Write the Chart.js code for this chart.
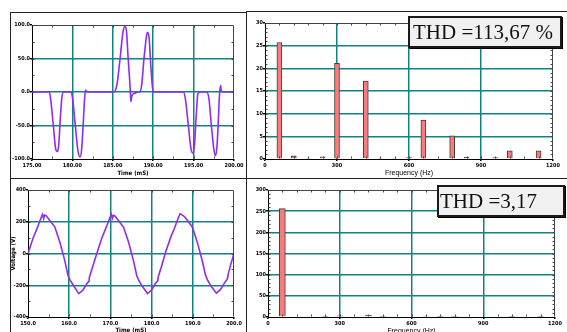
<!DOCTYPE html>
<html>
<head>
<meta charset="utf-8">
<script src="https://cdn.jsdelivr.net/npm/chart.js@4.4.1/dist/chart.umd.min.js"></script>
<style>
  html, body { margin: 0; padding: 0; background: #fff; }
  body { width: 567px; height: 332px; position: relative; overflow: hidden; }
  canvas { position: absolute; }
  .rule { position: absolute; background: #222; z-index: 2; }
  .thd {
    position: absolute; z-index: 3; box-sizing: border-box;
    background: #f1f1f1; border: 2px solid #1a1a1a; box-shadow: 1px 1px 0 #000;
    font-family: "Liberation Serif", "Times New Roman", serif; font-size: 21px;
    line-height: 28px; color: #111; white-space: nowrap;
  }
</style>
</head>
<body>
<div class="rule" style="left:10px;top:12px;width:236px;height:1px"></div>
<div class="rule" style="left:246px;top:11px;width:321px;height:1px"></div>
<div class="rule" style="left:10px;top:12px;width:1px;height:320px"></div>
<div class="rule" style="left:246px;top:11px;width:1px;height:321px"></div>
<div class="rule" style="left:10px;top:178px;width:557px;height:1px"></div>

<canvas id="wave1" width="234" height="166" style="left:11px;top:12px"></canvas>
<canvas id="fft1" width="320" height="166" style="left:247px;top:12px"></canvas>
<canvas id="wave2" width="241" height="160" style="left:4px;top:179px"></canvas>
<canvas id="fft2" width="320" height="160" style="left:247px;top:179px"></canvas>

<div class="thd" style="left:408px;top:16px;width:154px;height:32px;padding-left:3px">THD =113,67 %</div>
<div class="thd" style="left:437px;top:185px;width:128px;height:32px;padding-left:1px">THD =3,17</div>

<script>
// 上段: 電流波形 (175〜200 mS)
const pulseTimes = [
  175, 177.15, 177.3, 177.64, 177.93, 178.14, 178.3, 178.5, 178.7, 178.9,
  179.8, 180.03, 180.36, 180.69, 180.94, 181.15, 181.35, 181.52, 181.64, 181.8,
  185.07, 185.5, 185.9, 186.27, 186.5, 186.7, 186.9, 187.13, 187.2, 187.25, 187.37, 187.7, 188.1,
  188.3, 188.57, 188.86, 189.19, 189.3, 189.5, 189.7, 189.93, 190.1,
  193.73, 193.98, 194.35, 194.68, 194.9, 195.1, 195.3, 195.5, 195.67,
  196.6, 196.9, 197.2, 197.5, 197.7, 197.9, 198.07, 198.2, 198.35, 198.4, 198.6, 200
];
const pulseValues = [
  0, 0, -10, -50, -85, -89, -80, -40, -8, 0,
  0, -10, -50, -88, -97, -85, -45, -8, 3, 0,
  0, 10, 50, 90, 98, 90, 50, 10, -7, -14, -5, -2, 0,
  0, 10, 50, 85, 89, 80, 40, 5, 0,
  0, -10, -50, -85, -91, -80, -40, -5, 0,
  0, -10, -50, -85, -95, -80, -40, -5, 10, 3, 0, 0
];
const pulseTimeTicks = [175, 180, 185, 190, 195, 200];
const pulseTimeLabels = ['175.00', '180.00', '185.00', '190.00', '195.00', '200.00'];
const pulseValueTicks = [-100, -50, 0, 50, 100];
const pulseValueLabels = ['-100.0', '-50.0', '0.0', '50.0', '100.0'];

// 上段: スペクトル
const fft1Freq = [60, 120, 180, 240, 300, 420, 480, 540, 600, 660, 780, 840, 960, 1020, 1140];
const fft1Mag = [25.7, 0.7, 0.2, 0.5, 21.1, 17.2, 0.2, 0.2, 0.3, 8.6, 5.1, 0.4, 0.3, 1.8, 1.8];
const fft1MagTicks = [0, 5, 10, 15, 20, 25, 30];
const fft1MagLabels = ['0', '5', '10', '15', '20', '25', '30'];

// 下段: 電圧波形 (150〜200 mS)
const sineTimes = [
  150.0, 151.2, 152.2, 152.8, 153.5, 153.8, 154.0, 154.4, 155.2, 156.5, 157.7,
  158.9, 159.7, 160.2, 161.0, 162.3, 163.3, 164.3, 164.8, 164.9, 165.7,
  166.7, 167.9, 168.9, 169.5, 170.2, 170.5, 170.7, 171.1, 171.9, 173.2, 174.4,
  175.6, 176.4, 176.9, 177.7, 179.0, 180.0, 181.0, 181.5, 181.6, 182.4,
  183.3, 184.6, 185.6, 186.2, 186.9, 187.3, 187.8, 188.6, 189.9, 191.1,
  192.3, 193.1, 193.6, 194.4, 195.7, 196.7, 197.7, 198.4, 198.6, 199.2, 200.0
];
const sineValues = [
  0, 95, 158, 200, 246, 220, 242, 238, 211, 168, 74,
  -42, -137, -168, -200, -253, -232, -189, -175, -150, -84,
  0, 96, 160, 200, 248, 222, 240, 236, 210, 165, 72,
  -45, -140, -170, -205, -252, -230, -186, -172, -148, -82,
  0, 100, 162, 205, 250, 245, 236, 212, 166, 70,
  -46, -138, -168, -205, -250, -228, -185, -160, -130, -70, 0
];
const sineTimeTicks = [150, 160, 170, 180, 190, 200];
const sineTimeLabels = ['150.0', '160.0', '170.0', '180.0', '190.0', '200.0'];
const sineValueTicks = [-400, -200, 0, 200, 400];
const sineValueLabels = ['-400', '-200', '0', '200', '400'];

// 下段: スペクトル
const fft2Freq = [60, 240, 300, 420, 480, 660, 720, 780, 1020, 1140];
const fft2Mag = [256, 1.5, 3, 4, 1.5, 2, 1.5, 1.5, 1.5, 1.5];
const fft2MagTicks = [0, 50, 100, 150, 200, 250, 300];
const fft2MagLabels = ['0', '50', '100', '150', '200', '250', '300'];

const freqTicks = [0, 300, 600, 900, 1200];
const freqLabels = ['0', '300', '600', '900', '1200'];

// 共通スタイル
const GRID = '#0f8282';
const TICK_FONT = { family: '"Liberation Sans Narrow", "DejaVu Sans Condensed", Arial, sans-serif', size: 5.5, weight: 'bold' };
const WAVE = '#8f2cf2';

// 固定目盛りの軸を作る
function makeAxis(o) {
  const last = o.values.length - 1;
  return {
    type: 'linear',
    min: o.values[0],
    max: o.values[last],
    offset: false,
    afterBuildTicks: s => { s.ticks = o.values.map(v => ({ value: v })); },
    afterFit: s => { if (o.horizontal) s.height = o.size; else s.width = o.size; },
    ticks: {
      font: TICK_FONT, color: '#000', padding: o.tickPad, maxRotation: 0, autoSkip: false,
      callback: (v, i) => o.labels[i]
    },
    grid: {
      offset: false,
      color: c => (c.index === 0 || c.index === last) ? 'rgba(0,0,0,0)' : GRID,
      lineWidth: 1.5, tickLength: 2, tickColor: '#000', drawTicks: true
    },
    border: { display: true, color: '#000', width: 1 },
    title: o.title ? { display: true, text: o.title, font: o.titleFont, color: '#000', padding: o.titlePad } : { display: false }
  };
}

// 枠と補助目盛り
const framePlugin = {
  id: 'frame',
  afterDraw(chart, args, opts) {
    const { ctx, chartArea: a } = chart;
    const sx = chart.scales.x, sy = chart.scales.y;
    const L = Math.round(a.left) + 0.5, R = Math.round(a.right) - 0.5;
    const T = Math.round(a.top) + 0.5, B = Math.round(a.bottom) - 0.5;
    ctx.save();
    ctx.lineWidth = 1;
    ctx.strokeStyle = '#444';
    ctx.beginPath();
    ctx.moveTo(L, T); ctx.lineTo(R, T); ctx.lineTo(R, B);
    for (let v = sx.min + opts.xStep; v < sx.max - 1e-6; v += opts.xStep) {
      const p = Math.round(sx.getPixelForValue(v)) + 0.5;
      ctx.moveTo(p, B); ctx.lineTo(p, B - 2);
      ctx.moveTo(p, T); ctx.lineTo(p, T + 2);
    }
    for (let v = sy.min + opts.yStep; v < sy.max - 1e-6; v += opts.yStep) {
      const p = Math.round(sy.getPixelForValue(v)) + 0.5;
      ctx.moveTo(L, p); ctx.lineTo(L + 2, p);
      ctx.moveTo(R, p); ctx.lineTo(R - 2, p);
    }
    ctx.stroke();
    ctx.restore();
  }
};

function baseOptions(pad, xAxis, yAxis, steps) {
  return {
    responsive: false,
    animation: false,
    devicePixelRatio: 1,
    layout: { padding: pad },
    scales: { x: xAxis, y: yAxis },
    plugins: { legend: { display: false }, tooltip: { enabled: false }, frame: steps }
  };
}

const titleFontBold = { family: TICK_FONT.family, size: 6, weight: 'bold' };
const titleFontFreq = { family: '"Liberation Sans", Arial, sans-serif', size: 7, weight: 'normal' };

// 上段左: 電流波形
new Chart(document.getElementById('wave1'), {
  type: 'line',
  data: {
    datasets: [{
      data: pulseTimes.map((t, i) => ({ x: t, y: pulseValues[i] })),
      borderColor: WAVE, borderWidth: 1.6, pointRadius: 0, cubicInterpolationMode: 'monotone', fill: false
    }]
  },
  options: baseOptions(
    { left: 0, right: 11, top: 13, bottom: 0 },
    makeAxis({ horizontal: true, size: 19, values: pulseTimeTicks, labels: pulseTimeLabels, tickPad: 1,
               title: 'Time (mS)', titleFont: titleFontBold, titlePad: { top: 0, bottom: 1 } }),
    makeAxis({ horizontal: false, size: 21, values: pulseValueTicks, labels: pulseValueLabels, tickPad: 0 }),
    { xStep: 2.5, yStep: 25 }
  ),
  plugins: [framePlugin]
});

// 上段右: スペクトル
new Chart(document.getElementById('fft1'), {
  type: 'bar',
  data: {
    datasets: [{
      data: fft1Freq.map((f, i) => ({ x: f, y: fft1Mag[i] })),
      backgroundColor: '#fb7b7b', borderColor: '#3f3f3f', borderWidth: 1, barThickness: 5
    }]
  },
  options: baseOptions(
    { left: 0, right: 14, top: 11, bottom: 0 },
    makeAxis({ horizontal: true, size: 19, values: freqTicks, labels: freqLabels, tickPad: 1,
               title: 'Frequency (Hz)', titleFont: titleFontFreq, titlePad: { top: 0, bottom: 0.5 } }),
    makeAxis({ horizontal: false, size: 18, values: fft1MagTicks, labels: fft1MagLabels, tickPad: 0 }),
    { xStep: 60, yStep: 1 }
  ),
  plugins: [framePlugin]
});

// 下段左: 電圧波形
new Chart(document.getElementById('wave2'), {
  type: 'line',
  data: {
    datasets: [{
      data: sineTimes.map((t, i) => ({ x: t, y: sineValues[i] })),
      borderColor: WAVE, borderWidth: 1.6, pointRadius: 0, tension: 0, fill: false
    }]
  },
  options: baseOptions(
    { left: 0, right: 11, top: 11, bottom: 0 },
    makeAxis({ horizontal: true, size: 22, values: sineTimeTicks, labels: sineTimeLabels, tickPad: 1,
               title: 'Time (mS)', titleFont: titleFontBold, titlePad: { top: 0, bottom: 5 } }),
    makeAxis({ horizontal: false, size: 24, values: sineValueTicks, labels: sineValueLabels, tickPad: 0,
               title: 'Voltage (V)', titleFont: titleFontBold, titlePad: { top: 5.4, bottom: 0 } }),
    { xStep: 5, yStep: 100 }
  ),
  plugins: [framePlugin]
});

// 下段右: スペクトル
new Chart(document.getElementById('fft2'), {
  type: 'bar',
  data: {
    datasets: [{
      data: fft2Freq.map((f, i) => ({ x: f, y: fft2Mag[i] })),
      backgroundColor: '#fb7b7b', borderColor: '#3f3f3f', borderWidth: 1, barThickness: 6
    }]
  },
  options: baseOptions(
    { left: 0, right: 12, top: 11, bottom: 0 },
    makeAxis({ horizontal: true, size: 22, values: freqTicks, labels: freqLabels, tickPad: 1,
               title: 'Frequency (Hz)', titleFont: titleFontFreq, titlePad: { top: 0, bottom: 3.5 } }),
    makeAxis({ horizontal: false, size: 21, values: fft2MagTicks, labels: fft2MagLabels, tickPad: 0 }),
    { xStep: 60, yStep: 10 }
  ),
  plugins: [framePlugin]
});
</script>
</body>
</html>
